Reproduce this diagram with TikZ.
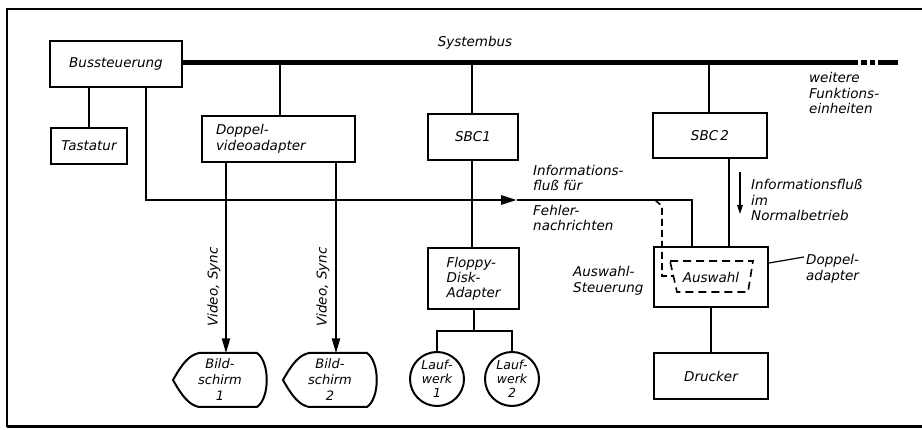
\documentclass[tikz,border=0pt]{standalone}
\usepackage{fontspec}
\setmainfont{DejaVu Sans}
\usetikzlibrary{arrows.meta}
\begin{document}
\begin{tikzpicture}[x=1pt,y=-1pt,
  font=\itshape\fontsize{13.5}{15.5}\selectfont,
  box/.style={draw, line width=2pt, inner sep=1pt, align=left},
  conn/.style={line width=2.3pt},
  busline/.style={line width=5pt},
  fehler/.style={line width=2.8pt},
  vid/.style={line width=2.2pt, -{Triangle[length=15pt,width=8pt]}},
  lbl/.style={inner sep=0pt, align=left},
  dsh/.style={line width=1.6pt, dash pattern=on 8pt off 5pt},
  frame/.style={line width=2pt}]
\useasboundingbox (0,0) rectangle (922,430);
% frame
\draw[frame] (922,9) -- (7,9) -- (7,427);
\draw[line width=3pt] (7,427) -- (922,427);

% nodes
\node[box, minimum width=132pt, minimum height=46pt] (bus) at (116,64) {Bussteuerung};
\node[box, minimum width=76pt, minimum height=36pt] (tast) at (89,146) {Tastatur};
\node[box, minimum width=153pt, minimum height=46pt, text width=125pt] (dva) at (278.5,139) {Doppel-\\videoadapter};
\node[box, minimum width=90pt, minimum height=46pt] (sbc1) at (473,137) {SBC1};
\node[box, minimum width=114pt, minimum height=45pt] (sbc2) at (710,135.5) {SBC\,2};
\node[box, minimum width=91pt, minimum height=61pt, font=\itshape\fontsize{13.5}{14.8}\selectfont] (fda) at (473.5,278.5) {Floppy-\\Disk-\\Adapter};
\node[box, minimum width=114pt, minimum height=60pt] (dad) at (711,277) {};
\node[box, minimum width=114pt, minimum height=46pt] (drk) at (711,376) {Drucker};
\node[draw, circle, line width=2pt, minimum size=54pt, inner sep=0pt, align=center,
      font=\itshape\fontsize{12.5}{14}\selectfont] (lw1) at (437,379) {Lauf-\\werk\\1};
\node[draw, circle, line width=2pt, minimum size=54pt, inner sep=0pt, align=center,
      font=\itshape\fontsize{12.5}{14}\selectfont] (lw2) at (512,379) {Lauf-\\werk\\2};
\node[inner sep=0pt, minimum width=94pt, minimum height=53pt, align=center,
      font=\itshape\fontsize{13}{16}\selectfont] (bs1) at (220,380) {Bild-\\schirm\\1};
\node[inner sep=0pt, minimum width=94pt, minimum height=53pt, align=center,
      font=\itshape\fontsize{13}{16}\selectfont] (bs2) at (330,380) {Bild-\\schirm\\2};

% Bildschirm outlines
\foreach \n in {bs1,bs2}{
  \draw[line width=2pt, shift={(\n.center)}]
    (-47,0) .. controls (-38,-16) and (-31,-25) .. (-21,-27) -- (37,-27)
    .. controls (50,-18) and (50,18) .. (37,27) -- (-21,27)
    .. controls (-31,25) and (-38,16) .. (-47,0) -- cycle;
}

% labels
\node[lbl] (sysb) at (475,43) {Systembus};
\node[lbl, anchor=west] (weit) at (809,93) {weitere\\Funktions-\\einheiten};
\node[lbl, anchor=west] (iff) at (533,178) {Informations-\\fluß für};
\node[lbl, anchor=west] (fn) at (533,218) {Fehler-\\nachrichten};
\node[lbl, anchor=west] (ifn) at (751,200) {Informationsfluß\\im\\Normalbetrieb};
\node[lbl, anchor=west] (aws) at (573,281) {Auswahl-\\Steuerung};
\node[lbl, anchor=west] (dpl) at (806,269) {Doppel-\\adapter};
\node[lbl] (aus) at (711,277) {Auswahl};
\node[lbl, rotate=90] (vl1) at (214,287) {Video, Sync};
\node[lbl, rotate=90] (vl2) at (323,287) {Video, Sync};

% coordinates
\coordinate (busend) at (858,63);
\coordinate (xs1) at (472,0);
\coordinate (xs2) at (709,0);
\coordinate (xv1) at (226,0);
\coordinate (xv2) at (336,0);
\coordinate (xf) at (146,0);
\coordinate (fb) at (517,200);
\coordinate (xfc) at (692,0);
\coordinate (xn) at (729,0);
\coordinate (fj) at (474,331);
\coordinate (ia) at (740,172);
\coordinate (ib) at (740,214);
\coordinate (dq) at (804,257);
\coordinate (dp) at (0,263);

% system bus
\draw[busline] (bus.east |- busend) -- (busend);
\draw[busline] (861,63) -- (867,63) (870,63) -- (875,63) (878,63) -- (898,63);
\draw[conn] (dva.north) ++(1.5,0) coordinate (dvan) (dvan) -- (dvan |- busend);
\draw[conn] (sbc1.north -| xs1) -- (xs1 |- busend);
\draw[conn] (sbc2.north -| xs2) -- (xs2 |- busend);

% other connectors
\draw[conn] (bus.south -| tast.north) -- (tast.north);
\draw[vid] (dva.south -| xv1) -- (bs1.north -| xv1);
\draw[vid] (dva.south -| xv2) -- (bs2.north -| xv2);
\draw[conn] (sbc1.south -| xs1) -- (fda.north -| xs1);
\draw[conn] (fda.south -| fj) -- (fj);
\draw[conn] (lw1.north) |- (fj) -| (lw2.north);
\draw[conn] (sbc2.south -| xn) -- (dad.north -| xn);
\draw[conn] (dad.south) -- (drk.north);

% error info flow
\draw[fehler, -{Triangle[length=16pt,width=9pt]}] (bus.south -| xf) |- (fb);
\draw[fehler] (fb) -| (dad.north -| xfc);

% dashed selection path and trapezoid
\draw[dsh, dash pattern=on 7pt off 4pt] (655,200) -- (662,206) -- (662,276) -- (673.5,276);
\draw[dsh] (670,261) -- (753,261) -- (748,292) -- (677,292) -- cycle;

% small arrow and pointer
\draw[line width=1.4pt, -{Triangle[length=9pt,width=5.5pt]}] (ia) -- (ib);
\draw[line width=1.2pt] (dad.east |- dp) -- (dq);
\end{tikzpicture}
\end{document}
